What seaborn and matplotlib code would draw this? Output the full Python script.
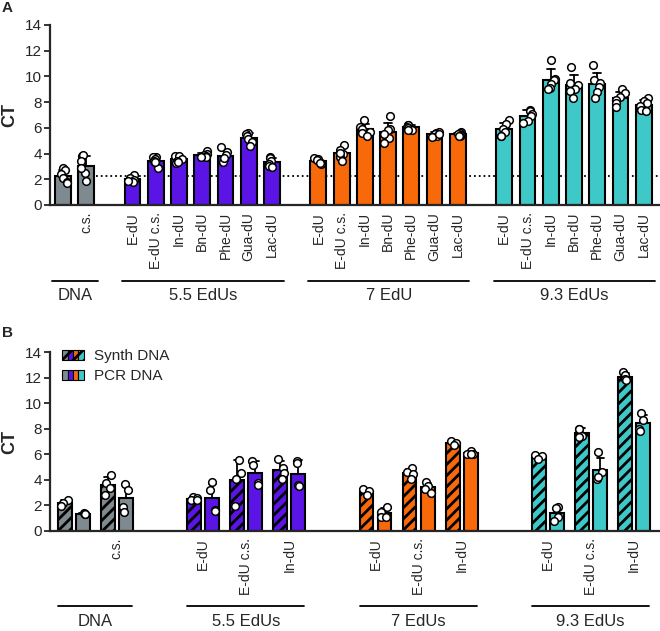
import numpy as np
import pandas as pd
import seaborn as sns
import matplotlib.pyplot as plt
from matplotlib.patches import Patch
from matplotlib.legend_handler import HandlerTuple

sns.set_style('ticks')
plt.rcParams['font.family'] = ['Liberation Sans', 'DejaVu Sans']
plt.rcParams['hatch.linewidth'] = 2.0
np.random.seed(3)  # only for the jitter of the dots

c_dna, c_55, c_7, c_93 = '#7E8A90', '#5A14E6', '#F8690A', '#3EC8C8'

mods = ['E-dU', 'E-dU c.s.', 'In-dU', 'Bn-dU', 'Phe-dU', 'Gua-dU', 'Lac-dU']
mods_b = ['E-dU', 'E-dU c.s.', 'In-dU']
dna_labels = ['', 'c.s.']

# panel A: CT replicates
a_dna = [[2.9, 2.7, 2.4, 2.1, 1.8, 1.75],
         [3.8, 3.9, 3.4, 2.5, 2.9, 1.9]]
a_55 = [[2.35, 2.1, 1.95, 1.8, 1.85],
        [3.75, 3.7, 3.6, 3.4, 2.9, 3.35],
        [3.85, 3.8, 3.6, 3.4, 3.3, 3.35],
        [4.2, 4.0, 3.9, 3.8, 3.7, 3.75],
        [4.5, 4.1, 3.9, 3.6, 3.35, 3.65],
        [5.6, 5.55, 5.35, 5.1, 4.9, 4.6],
        [3.7, 3.65, 3.4, 3.2, 3.0, 2.95]]
a_7 = [[3.65, 3.6, 3.5, 3.3, 3.2, 3.25],
       [4.65, 4.3, 4.0, 3.7, 3.4, 4.05],
       [6.65, 6.1, 5.9, 5.7, 5.6, 5.35],
       [6.9, 5.9, 5.8, 5.2, 4.85, 5.55],
       [6.25, 6.2, 6.1, 6.0, 5.85, 5.85],
       [5.7, 5.6, 5.5, 5.4, 5.3, 5.5],
       [5.7, 5.6, 5.5, 5.45, 5.35, 5.4]]
a_93 = [[6.65, 6.3, 5.9, 5.7, 5.35, 5.4],
        [7.4, 7.35, 7.1, 6.9, 6.55, 6.4],
        [11.3, 9.8, 9.7, 9.4, 9.1, 9.0],
        [10.75, 9.5, 9.35, 9.0, 8.85, 8.35],
        [10.9, 9.75, 9.5, 9.2, 8.8, 8.3],
        [9.0, 8.7, 8.4, 8.15, 7.9, 7.65],
        [8.3, 8.1, 7.9, 7.7, 7.4, 7.3]]

# panel B: synthetic vs PCR DNA
b_dna_synth = [[2.4, 2.2, 1.95], [4.4, 3.75, 3.4, 2.8]]
b_dna_pcr = [[1.4, 1.3, 1.3], [3.65, 3.2, 1.9, 1.5]]
b_55_synth = [[2.65, 2.55, 2.4, 2.4], [5.55, 4.5, 4.1, 1.95], [5.6, 4.95, 4.5, 4.05]]
b_55_pcr = [[3.85, 3.2, 1.65, 1.6], [5.45, 5.2, 3.75, 3.6], [5.45, 5.3, 3.6, 3.5]]
b_7_synth = [[3.3, 3.1, 2.85], [4.9, 4.6, 4.45, 4.1], [7.05, 6.85, 6.7]]
b_7_pcr = [[1.9, 1.45, 1.1, 1.1], [3.85, 3.5, 3.3, 3.0], [6.25, 6.05, 6.0, 6.0]]
b_93_synth = [[5.95, 5.85, 5.6], [8.0, 7.95, 7.45, 7.35], [12.4, 12.2, 11.9, 11.8]]
b_93_pcr = [[1.9, 1.8, 1.1, 0.75], [6.15, 4.6, 4.1, 4.2], [9.2, 8.7, 8.0, 7.8]]


def long_df(reps, start, offset=0.0):
    rows = [(start + i + offset, v) for i, vals in enumerate(reps) for v in vals]
    return pd.DataFrame(rows, columns=['pos', 'ct'])


def bars(ax, d, col, width, cap, jit, hatch=''):
    n0 = len(ax.patches)
    sns.barplot(data=d, x='pos', y='ct', native_scale=True, color=col, saturation=1,
                width=width, errorbar='sd', capsize=cap, edgecolor='black', linewidth=1.5,
                err_kws=dict(color='black', linewidth=1.3, zorder=0.9), ax=ax)
    for p in ax.patches[n0:]:
        p.set_hatch(hatch)
    sns.stripplot(data=d, x='pos', y='ct', native_scale=True, jitter=jit, color='white',
                  edgecolor='black', linewidth=1.1, size=5.5, zorder=3, ax=ax)


def style(ax, ticks, labels, groups, xmax):
    ax.set_ylim(0, 14)
    ax.set_yticks(range(0, 15, 2))
    ax.set_xlim(-0.55, xmax)
    ax.set_xticks(ticks)
    ax.set_xticklabels(labels, rotation=90, fontsize=10)
    ax.tick_params(axis='x', length=0, pad=5)
    ax.tick_params(axis='y', length=4, width=1.3, labelsize=11, pad=2)
    ax.set_xlabel('')
    ax.set_ylabel('CT', fontsize=13, fontweight='bold')
    ax.yaxis.set_label_coords(-0.052, 0.5)
    for s in ['left', 'bottom']:
        ax.spines[s].set_linewidth(1.6)
    sns.despine(ax=ax)
    tr = ax.get_xaxis_transform()
    for name, x0, x1 in groups:
        ax.plot([x0, x1], [-0.42, -0.42], color='black', lw=1.3, transform=tr, clip_on=False)
        ax.text((x0 + x1) / 2, -0.505, name, transform=tr, ha='center', va='center', fontsize=12)


fig = plt.figure(figsize=(6.6, 6.31), dpi=100)
axA = fig.add_axes([50 / 660, 1 - 205 / 631, 610 / 660, 180 / 631])
axB = fig.add_axes([50 / 660, 1 - 531 / 631, 610 / 660, 179 / 631])

# ---- A
sets_a = [('DNA', dna_labels, a_dna, c_dna, 0), ('5.5 EdUs', mods, a_55, c_55, 3),
          ('7 EdU', mods, a_7, c_7, 11), ('9.3 EdUs', mods, a_93, c_93, 19)]
ticks, labels, groups = [], [], []
for name, labs, reps, col, st in sets_a:
    bars(axA, long_df(reps, st), col, 0.68, 0.35, 0.22)
    ticks += [st + i for i in range(len(labs))]
    labels += labs
    groups.append((name, st - 0.45, st + len(labs) - 1 + 0.5))
axA.axhline(np.mean(a_dna[0]), xmin=(1.45 + 0.55) / 26.25, color='black', ls=':', lw=1.3, zorder=0.5)
style(axA, ticks, labels, groups, 25.7)

# ---- B
sets_b = [('DNA', dna_labels, b_dna_synth, b_dna_pcr, c_dna, 0),
          ('5.5 EdUs', mods_b, b_55_synth, b_55_pcr, c_55, 3),
          ('7 EdUs', mods_b, b_7_synth, b_7_pcr, c_7, 7),
          ('9.3 EdUs', mods_b, b_93_synth, b_93_pcr, c_93, 11)]
ticks, labels, groups = [], [], []
for name, labs, syn, pcr, col, st in sets_b:
    bars(axB, long_df(syn, st, -0.21), col, 0.32, 0.16, 0.09, hatch='///')
    bars(axB, long_df(pcr, st, 0.21), col, 0.32, 0.16, 0.09)
    ticks += [st + i for i in range(len(labs))]
    labels += labs
    groups.append((name, st - 0.37, st + len(labs) - 1 + 0.35))
style(axB, ticks, labels, groups, 13.6)

cols = [c_dna, c_55, c_7, c_93]
h_syn = tuple(Patch(facecolor=c, edgecolor='black', lw=0.8, hatch='///') for c in cols)
h_pcr = tuple(Patch(facecolor=c, edgecolor='black', lw=0.8) for c in cols)
axB.legend([h_syn, h_pcr], ['Synth DNA', 'PCR DNA'], handler_map={tuple: HandlerTuple(ndivide=None, pad=0)},
           loc='upper left', bbox_to_anchor=(0.01, 1.05), frameon=False, fontsize=11,
           handlelength=1.4, handleheight=0.65, handletextpad=0.7, labelspacing=0.4, borderaxespad=0)

fig.text(2 / 660, 1 - 8 / 631, 'A', fontsize=11, fontweight='bold', va='center')
fig.text(2 / 660, 1 - 333 / 631, 'B', fontsize=11, fontweight='bold', va='center')

fig.savefig('out.png', dpi=100)
